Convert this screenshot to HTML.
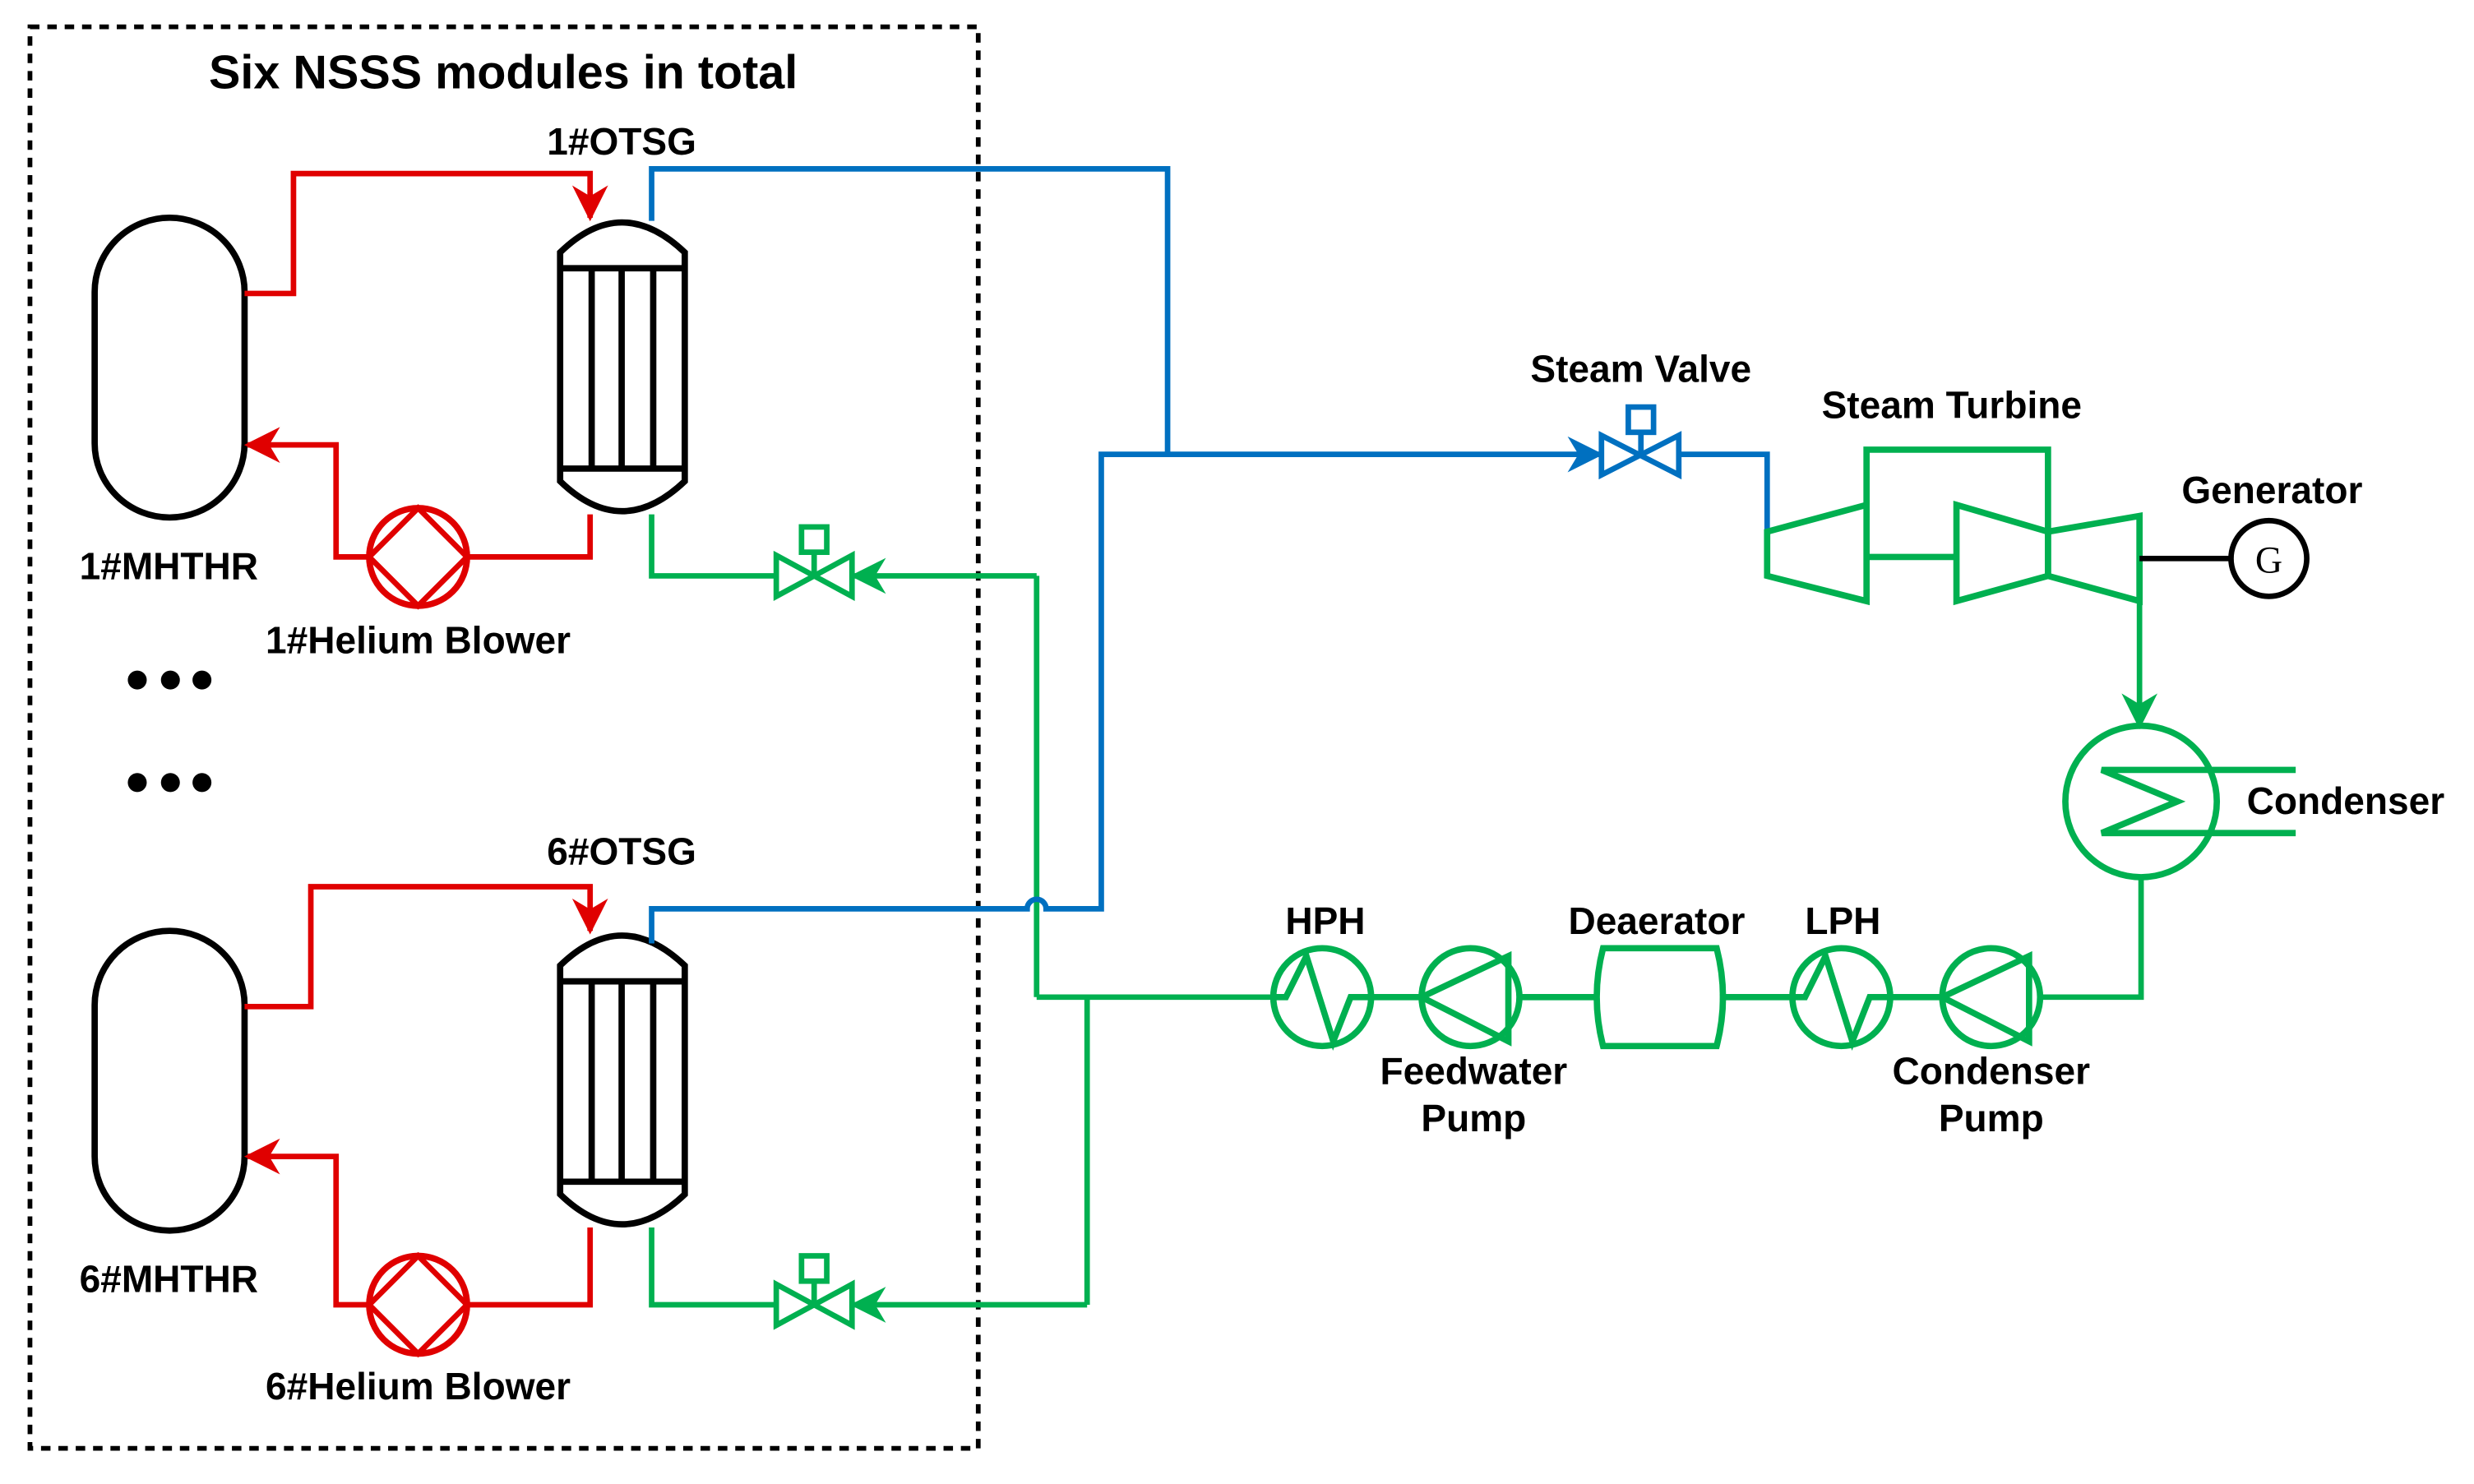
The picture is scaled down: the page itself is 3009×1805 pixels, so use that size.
<!DOCTYPE html>
<html><head><meta charset="utf-8"><style>
html,body{margin:0;padding:0;background:#fff}
svg{display:block}
text{font-family:"Liberation Sans",Arial,sans-serif;font-weight:bold;fill:#000}
</style></head><body>
<svg width="3009" height="1805" viewBox="0 0 1568 940.6" preserveAspectRatio="none" xmlns="http://www.w3.org/2000/svg">
<defs>
<marker id="ar" viewBox="0 0 10 10" refX="9" refY="5" markerWidth="6.5" markerHeight="6.5" orient="auto" markerUnits="strokeWidth"><path d="M0,0 L10,5 L0,10 L3,5 z" fill="#e00000"/></marker>
<marker id="ag" viewBox="0 0 10 10" refX="9" refY="5" markerWidth="6.5" markerHeight="6.5" orient="auto" markerUnits="strokeWidth"><path d="M0,0 L10,5 L0,10 L3,5 z" fill="#00b050"/></marker>
<marker id="ab" viewBox="0 0 10 10" refX="9" refY="5" markerWidth="6.5" markerHeight="6.5" orient="auto" markerUnits="strokeWidth"><path d="M0,0 L10,5 L0,10 L3,5 z" fill="#0070c0"/></marker>
</defs>
<rect width="1568" height="940.6" fill="#fff"/>
<rect x="19" y="17" width="601" height="901" fill="none" stroke="#000" stroke-width="3" stroke-dasharray="6,5"/>
<text x="319" y="56" font-size="30" text-anchor="middle">Six NSSS modules in total</text>

<g>
<path d="M60,185 A47.5,47 0 0 1 155,185 L155,281 A47.5,47 0 0 1 60,281 Z" fill="none" stroke="#000" stroke-width="4"/>
<path d="M355,160 Q394,122 434,160 L434,305 Q394,343 355,305 Z" fill="none" stroke="#000" stroke-width="4"/>
<path d="M355,170 H434 M355,297 H434 M375,170 V297 M394,170 V297 M414,170 V297" stroke="#000" stroke-width="4" fill="none"/>
<path d="M155,186 H186 V110 H374 V138" fill="none" stroke="#e00000" stroke-width="3.5" marker-end="url(#ar)"/>
<path d="M374,326 V353 H297 M233,353 H213 V282 H157" fill="none" stroke="#e00000" stroke-width="3.5" marker-end="url(#ar)"/>
<circle cx="265" cy="353" r="31" fill="none" stroke="#e00000" stroke-width="4"/>
<path d="M265,322 L234,353 L265,384 L296,353 Z" fill="none" stroke="#e00000" stroke-width="3.5"/>
<path d="M413,326 V365 H492" fill="none" stroke="#00b050" stroke-width="3.5"/>
<path d="M492,352 L540,378 L540,352 L492,378 Z" fill="none" stroke="#00b050" stroke-width="3.5"/>
<path d="M516,365 V350" stroke="#00b050" stroke-width="3.5"/>
<rect x="508" y="334" width="16" height="16" fill="none" stroke="#00b050" stroke-width="3.5"/>
</g>
<text x="394" y="98" font-size="24" text-anchor="middle">1#OTSG</text>
<text x="107" y="367" font-size="24" text-anchor="middle">1#MHTHR</text>
<text x="265" y="414" font-size="24" text-anchor="middle">1#Helium Blower</text>

<g>
<path d="M60,637 A47.5,47 0 0 1 155,637 L155,733 A47.5,47 0 0 1 60,733 Z" fill="none" stroke="#000" stroke-width="4"/>
<path d="M355,612 Q394,574 434,612 L434,757 Q394,795 355,757 Z" fill="none" stroke="#000" stroke-width="4"/>
<path d="M355,622 H434 M355,749 H434 M375,622 V749 M394,622 V749 M414,622 V749" stroke="#000" stroke-width="4" fill="none"/>
<path d="M155,638 H197 V562 H374 V590" fill="none" stroke="#e00000" stroke-width="3.5" marker-end="url(#ar)"/>
<path d="M374,778 V827 H297 M233,827 H213 V733 H157" fill="none" stroke="#e00000" stroke-width="3.5" marker-end="url(#ar)"/>
<circle cx="265" cy="827" r="31" fill="none" stroke="#e00000" stroke-width="4"/>
<path d="M265,796 L234,827 L265,858 L296,827 Z" fill="none" stroke="#e00000" stroke-width="3.5"/>
<path d="M413,778 V827 H492" fill="none" stroke="#00b050" stroke-width="3.5"/>
<path d="M492,814 L540,840 L540,814 L492,840 Z" fill="none" stroke="#00b050" stroke-width="3.5"/>
<path d="M516,827 V812" stroke="#00b050" stroke-width="3.5"/>
<rect x="508" y="796" width="16" height="16" fill="none" stroke="#00b050" stroke-width="3.5"/>
</g>
<text x="394" y="548" font-size="24" text-anchor="middle">6#OTSG</text>
<text x="107" y="819" font-size="24" text-anchor="middle">6#MHTHR</text>
<text x="265" y="887" font-size="24" text-anchor="middle">6#Helium Blower</text>

<g fill="#000"><circle cx="87" cy="431" r="6"/><circle cx="108" cy="431" r="6"/><circle cx="128" cy="431" r="6"/>
<circle cx="87" cy="496" r="6"/><circle cx="108" cy="496" r="6"/><circle cx="128" cy="496" r="6"/></g>

<path d="M657,365 V632 M657,632 H808 M689,632 V827" fill="none" stroke="#00b050" stroke-width="3.5"/>
<path d="M657,365 H541" fill="none" stroke="#00b050" stroke-width="3.5" marker-end="url(#ag)"/>
<path d="M689,827 H541" fill="none" stroke="#00b050" stroke-width="3.5" marker-end="url(#ag)"/>

<path d="M413,140 V107 H740 V288 M413,598 V576 H651 A6,6 0 0 1 663,576 H698 V288 H1014" fill="none" stroke="#0070c0" stroke-width="3.5" marker-end="url(#ab)"/>
<path d="M1015,276 L1064,301 L1064,276 L1015,301 Z" fill="none" stroke="#0070c0" stroke-width="3.5"/>
<path d="M1040,288 V274" stroke="#0070c0" stroke-width="3.5"/>
<rect x="1032" y="258" width="16" height="16" fill="none" stroke="#0070c0" stroke-width="3.5"/>
<path d="M1064,288 H1120 V337" fill="none" stroke="#0070c0" stroke-width="3.5"/>
<text x="1040" y="242" font-size="24" text-anchor="middle">Steam Valve</text>

<g fill="none" stroke="#00b050" stroke-width="4">
<path d="M1120,337 L1183,320 L1183,381 L1120,365 Z"/>
<path d="M1183,320 V285 H1298 V337"/>
<path d="M1183,353 H1240"/>
<path d="M1240,320 L1298,337 L1298,365 L1240,381 Z"/>
<path d="M1298,337 L1356,327 L1356,381 L1298,365 Z"/>
</g>
<text x="1237" y="265" font-size="24" text-anchor="middle">Steam Turbine</text>
<path d="M1356,354 H1414" stroke="#000" stroke-width="3.5"/>
<circle cx="1438" cy="354" r="24" fill="none" stroke="#000" stroke-width="3.5"/>
<text x="1438" y="363" font-size="24" style="font-family:'Liberation Serif',serif;font-weight:normal" text-anchor="middle">G</text>
<text x="1440" y="319" font-size="24" text-anchor="middle">Generator</text>

<path d="M1356,381 V460" fill="none" stroke="#00b050" stroke-width="3.5" marker-end="url(#ag)"/>
<circle cx="1357" cy="508" r="48" fill="none" stroke="#00b050" stroke-width="4"/>
<path d="M1455,488 H1332 L1380,508 L1332,528 H1455" fill="none" stroke="#00b050" stroke-width="4"/>
<text x="1424" y="516" font-size="24">Condenser</text>
<path d="M1357,556 V632 H1294" fill="none" stroke="#00b050" stroke-width="3.5"/>

<g fill="none" stroke="#00b050" stroke-width="4">
<path d="M870,632 H901 M964,632 H1013 M1090,632 H1136 M1198,632 H1231"/>
<circle cx="838" cy="632" r="31"/>
<path d="M807,632 H815 L828,606 L845,660 L856,632 H869"/>
<circle cx="932" cy="632" r="31"/>
<path d="M901,632 L956,606 V660 Z"/>
<path d="M1016,601 H1088 Q1096,632 1088,663 H1016 Q1008,632 1016,601 Z"/>
<circle cx="1167" cy="632" r="31"/>
<path d="M1136,632 H1144 L1157,606 L1174,660 L1185,632 H1198"/>
<circle cx="1262" cy="632" r="31"/>
<path d="M1231,632 L1286,606 V660 Z"/>
</g>
<text x="840" y="592" font-size="24" text-anchor="middle">HPH</text>
<text x="1050" y="592" font-size="24" text-anchor="middle">Deaerator</text>
<text x="1168" y="592" font-size="24" text-anchor="middle">LPH</text>
<text x="934" y="687" font-size="24" text-anchor="middle">Feedwater</text>
<text x="934" y="717" font-size="24" text-anchor="middle">Pump</text>
<text x="1262" y="687" font-size="24" text-anchor="middle">Condenser</text>
<text x="1262" y="717" font-size="24" text-anchor="middle">Pump</text>
</svg>
</body></html>
